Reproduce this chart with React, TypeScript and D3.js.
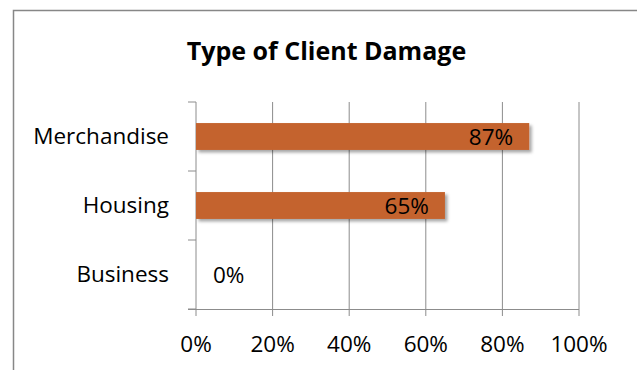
import React from "react";
import * as d3 from "d3";

const categories = ["Merchandise", "Housing", "Business"];
const values = [0.87, 0.65, 0];
const xTicks = [0, 0.2, 0.4, 0.6, 0.8, 1.0];
const title = "Type of Client Damage";

const W = 637;
const H = 370;
const FONT = "'Open Sans', sans-serif";
const FS = 22.5;

export default function App() {
  const x = d3.scaleLinear().domain([0, 1]).range([196, 579]);
  const y = d3.scaleBand<string>().domain(categories).range([102, 309]).paddingInner(0.61).paddingOuter(0.305);
  const bandStep = y.step();
  const fmt = d3.format(".0%");
  const grid = "#8c8c8c";
  return (
    <svg width={W} height={H} style={{ position: "absolute", left: 0, top: 0 }}>
      <defs>
        <filter id="sh" x="-5%" y="-30%" width="115%" height="190%">
          <feDropShadow dx="2.5" dy="2.5" stdDeviation="1.6" floodColor="#000" floodOpacity="0.35" />
        </filter>
      </defs>
      <rect x={0} y={0} width={W} height={H} fill="#fff" />
      <path d={`M13.5,${H} V10.5 H${W}`} fill="none" stroke="#878787" strokeWidth={1.5} />
      <text x={326.5} y={60} textAnchor="middle" fontFamily={FONT} fontWeight="bold" fontSize={25} fill="#000">
        {title}
      </text>
      {xTicks.map((t) => (
        <g key={t}>
          <line x1={x(t)} x2={x(t)} y1={102} y2={316} stroke={grid} strokeWidth={1} />
          <text x={x(t)} y={352} textAnchor="middle" fontFamily={FONT} fontSize={FS} fill="#000">
            {fmt(t)}
          </text>
        </g>
      ))}
      <line x1={188} x2={579} y1={309.5} y2={309.5} stroke={grid} strokeWidth={1} />
      {[0, 1, 2, 3].map((i) => (
        <line key={i} x1={188} x2={196} y1={102 + i * bandStep} y2={102 + i * bandStep} stroke={grid} strokeWidth={1} />
      ))}
      {categories.map((c, i) => {
        const yy = y(c)!;
        const bw = y.bandwidth();
        const v = values[i];
        const cy = yy + bw / 2;
        return (
          <g key={c}>
            <text x={169} y={cy + 7.5} textAnchor="end" fontFamily={FONT} fontSize={FS} fill="#000">
              {c}
            </text>
            {v > 0 && (
              <rect x={x(0)} y={yy} width={x(v) - x(0)} height={bw} fill="#C4642F" filter="url(#sh)" />
            )}
            {v > 0 ? (
              <text x={x(v) - 16} y={cy + 8.5} textAnchor="end" fontFamily={FONT} fontSize={FS} fill="#000">
                {fmt(v)}
              </text>
            ) : (
              <text x={213} y={cy + 8.5} textAnchor="start" fontFamily={FONT} fontSize={FS} fill="#000">
                {fmt(v)}
              </text>
            )}
          </g>
        );
      })}
    </svg>
  );
}
